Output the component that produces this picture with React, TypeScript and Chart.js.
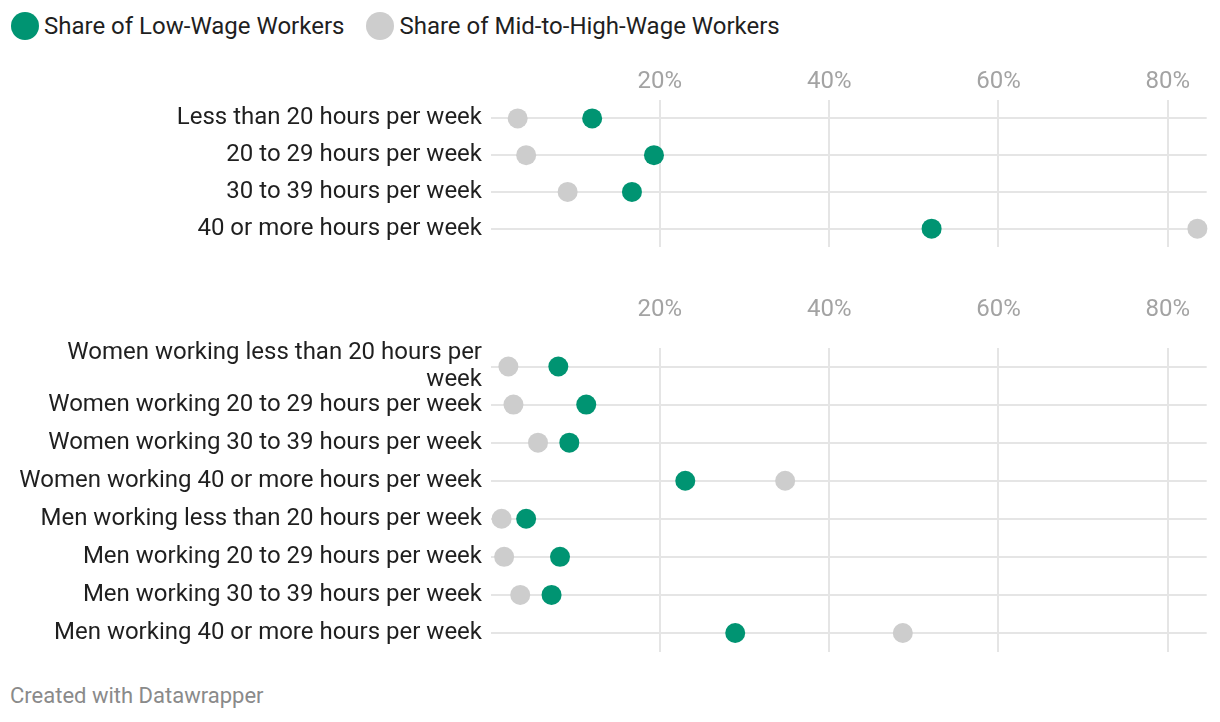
import React, { useEffect, useRef } from "react";
import { Chart, registerables } from "chart.js";

Chart.register(...registerables);

// ---- Data ----
const lowWageLabel = "Share of Low-Wage Workers";
const midHighLabel = "Share of Mid-to-High-Wage Workers";

const hoursCategories = [
  "Less than 20 hours per week",
  "20 to 29 hours per week",
  "30 to 39 hours per week",
  "40 or more hours per week",
];
const hoursLowWage = [12.0, 19.3, 16.7, 52.1];
const hoursMidHigh = [3.2, 4.2, 9.1, 83.5];

const genderCategories = [
  ["Women working less than 20 hours per", "week"],
  "Women working 20 to 29 hours per week",
  "Women working 30 to 39 hours per week",
  "Women working 40 or more hours per week",
  "Men working less than 20 hours per week",
  "Men working 20 to 29 hours per week",
  "Men working 30 to 39 hours per week",
  "Men working 40 or more hours per week",
];
const genderLowWage = [8.0, 11.3, 9.3, 23.0, 4.2, 8.2, 7.2, 28.9];
const genderMidHigh = [2.1, 2.7, 5.6, 34.8, 1.3, 1.6, 3.5, 48.7];

const xTickValues = [20, 40, 60, 80];
const xMin = 0;
const xMax = 84.6;

// ---- Styles ----
const GREEN = "#009472";
const GRAY = "#cdcdcd";
const GRID = "#e5e5e5";
const FONT = "Roboto, 'Noto Sans', sans-serif";

type PanelProps = {
  categories: (string | string[])[];
  low: number[];
  high: number[];
  top: number;
  height: number;
  axisHeight: number;
  tickPadding: number;
  bottomPad: number;
};

function Panel({ categories, low, high, top, height, axisHeight, tickPadding, bottomPad }: PanelProps) {
  const ref = useRef<HTMLCanvasElement | null>(null);
  useEffect(() => {
    if (!ref.current) return;
    const chart = new Chart(ref.current, {
      type: "line",
      data: {
        labels: categories as any,
        datasets: [
          {
            label: lowWageLabel,
            data: low,
            showLine: false,
            pointRadius: 10,
            pointHoverRadius: 10,
            pointBorderWidth: 0,
            pointBackgroundColor: GREEN,
            backgroundColor: GREEN,
            borderColor: GREEN,
            clip: false as any,
            order: 1,
          },
          {
            label: midHighLabel,
            data: high,
            showLine: false,
            pointRadius: 10,
            pointHoverRadius: 10,
            pointBorderWidth: 0,
            pointBackgroundColor: GRAY,
            backgroundColor: GRAY,
            borderColor: GRAY,
            clip: false as any,
            order: 2,
          },
        ],
      },
      options: {
        indexAxis: "y",
        animation: false,
        responsive: false,
        maintainAspectRatio: false,
        layout: { padding: { top: 0, right: 13.3, bottom: bottomPad, left: 0 } },
        plugins: { legend: { display: false }, tooltip: { enabled: false } },
        scales: {
          x: {
            type: "linear",
            position: "top",
            min: xMin,
            max: xMax,
            afterBuildTicks: (s: any) => {
              s.ticks = xTickValues.map((v) => ({ value: v }));
            },
            afterFit: (s: any) => {
              s.height = axisHeight;
              s.paddingLeft = 0;
              s.paddingRight = 0;
            },
            ticks: {
              callback: (v: any) => v + "%",
              color: "#a3a3a3",
              padding: tickPadding,
              font: { family: FONT, size: 24 },
              maxRotation: 0,
            },
            grid: { color: GRID, lineWidth: 2, drawTicks: false },
            border: { display: false },
          },
          y: {
            type: "category",
            offset: true,
            afterFit: (s: any) => {
              s.width = 490.6;
              s.paddingTop = 0;
              s.paddingBottom = 0;
            },
            ticks: {
              color: "#1f1f1f",
              padding: 8.6,
              font: { family: FONT, size: 24, lineHeight: 1.13 },
              autoSkip: false,
            },
            grid: { color: GRID, lineWidth: 2, drawTicks: false, offset: false },
            border: { display: false },
          },
        },
      },
    });
    return () => chart.destroy();
  }, []);
  return (
    <canvas
      ref={ref}
      width={1220}
      height={height}
      style={{ position: "absolute", left: 0, top, width: 1220, height }}
    />
  );
}

function LegendItem({ color, label }: { color: string; label: string }) {
  return (
    <div style={{ display: "flex", alignItems: "center", marginRight: 22 }}>
      <span
        style={{
          display: "inline-block",
          width: 28,
          height: 28,
          borderRadius: "50%",
          background: color,
          marginRight: 5,
        }}
      />
      <span style={{ fontSize: 24, color: "#1f1f1f" }}>{label}</span>
    </div>
  );
}

export default function App() {
  return (
    <div
      style={{
        position: "absolute",
        left: 0,
        top: 0,
        width: 1220,
        height: 722,
        background: "#fff",
        fontFamily: FONT,
        overflow: "hidden",
      }}
    >
      <div style={{ position: "absolute", left: 11, top: 12, display: "flex", alignItems: "center" }}>
        <LegendItem color={GREEN} label={lowWageLabel} />
        <LegendItem color={GRAY} label={midHighLabel} />
      </div>
      <Panel
        categories={hoursCategories}
        low={hoursLowWage}
        high={hoursMidHigh}
        top={50}
        height={207}
        axisHeight={50}
        tickPadding={3.4}
        bottomPad={4.5}
      />
      <Panel
        categories={genderCategories}
        low={genderLowWage}
        high={genderMidHigh}
        top={270}
        height={392}
        axisHeight={77.5}
        tickPadding={23.5}
        bottomPad={8.5}
      />
      <div
        style={{
          position: "absolute",
          left: 10,
          top: 683,
          fontSize: 22,
          color: "#8a8a8a",
        }}
      >
        Created with Datawrapper
      </div>
    </div>
  );
}
